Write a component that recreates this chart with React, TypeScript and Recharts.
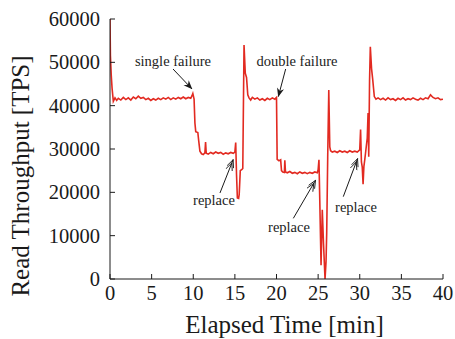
import React from 'react';
import { LineChart, Line, XAxis, YAxis, ReferenceLine, ReferenceDot } from 'recharts';

const timeMin: number[] = [
  0, 0.05, 0.15, 0.25, 0.4, 0.6, 0.8, 1.0, 1.3, 1.6, 1.9, 2.2, 2.5, 2.8, 3.1, 3.4, 3.7, 4.0, 4.3, 4.6, 4.9,
  5.2, 5.5, 5.8, 6.1, 6.4, 6.7, 7.0, 7.3, 7.6, 7.9, 8.2, 8.5, 8.8, 9.1, 9.4, 9.7, 9.85, 9.95,
  10.1, 10.2, 10.3, 10.55, 10.65, 10.8, 11.0, 11.2, 11.4, 11.48, 11.56, 11.8, 12.1, 12.4, 12.7, 13.0, 13.3,
  13.6, 13.9, 14.2, 14.5, 14.8, 15.0, 15.1, 15.2, 15.3, 15.45, 15.52, 15.65, 15.85, 15.95, 16.1, 16.25, 16.4,
  16.55, 16.7, 16.9, 17.1, 17.4, 17.7, 18.0, 18.3, 18.6, 18.9, 19.2, 19.5, 19.8, 20.0,
  20.08, 20.3, 20.5, 20.6, 20.75, 20.95, 21.0, 21.08, 21.3, 21.6, 21.9, 22.2, 22.5, 22.8, 23.1, 23.4, 23.7,
  24.0, 24.3, 24.6, 24.9, 25.0, 25.1, 25.2, 25.35, 25.5, 25.65, 25.83, 25.95, 26.03, 26.15, 26.28, 26.4, 26.5,
  26.7, 27.0, 27.3, 27.6, 27.9, 28.2, 28.5, 28.8, 29.1, 29.4, 29.7, 30.0, 30.1, 30.2, 30.3, 30.4, 30.5, 30.6,
  30.75, 30.9, 31.0, 31.08, 31.18, 31.27, 31.42, 31.55, 31.75, 31.95, 32.2, 32.5, 32.8, 33.1, 33.4, 33.7,
  34.0, 34.3, 34.6, 34.9, 35.2, 35.5, 35.8, 36.1, 36.4, 36.7, 37.0, 37.3, 37.6, 37.9, 38.2, 38.5, 38.8,
  39.1, 39.4, 39.7, 40.0,
];

const throughputTps: number[] = [
  60000, 51500, 47000, 44000, 41000, 41800, 41200, 41700, 41300, 41900, 41400, 41800, 41300, 42000, 41600, 42200, 41700, 41900, 41400, 41700, 41200,
  41600, 41300, 41700, 41400, 41800, 41500, 41900, 41400, 41800, 41500, 41900, 41600, 42000, 41600, 41900, 41700, 42300, 42800,
  41500, 36000, 34000, 33800, 32000, 29500, 28900, 28700, 29100, 31600, 29000, 28800, 29200, 28900, 29300, 29000, 29200,
  28800, 29100, 28900, 29200, 29000, 29300, 31500, 24000, 18700, 18600, 19500, 25000, 25300, 25500, 54000, 47500, 46500,
  42500, 41800, 41300, 41900, 41500, 41800, 41300, 41600, 41200, 41700, 41400, 41800, 41500, 41900,
  27600, 27300, 27500, 25000, 24700, 24600, 27400, 24700, 24500, 24800, 24400, 24600, 24300, 24700, 24400, 24600, 24300,
  24600, 24400, 24700, 24500, 25200, 27500, 18000, 3200, 16000, 8000, 0, 4000, 10600, 28000, 43600, 30500, 29600,
  29300, 29500, 29200, 29600, 29300, 29500, 29200, 29600, 29300, 29500, 29300, 29800, 34500, 27000, 25800, 21900, 26000, 27500,
  30000, 32500, 38300, 28200, 46000, 53600, 48500, 46200, 42100, 41500, 41800, 41400, 41700, 41300, 41800, 41400,
  41600, 41200, 41700, 41400, 41800, 41300, 41600, 41400, 41800, 41500, 41300, 41700, 41400, 41800, 41600, 42500, 41900,
  41600, 41800, 41400, 41500,
];

const xTicks: number[] = [0, 5, 10, 15, 20, 25, 30, 35, 40];
const yTicks: number[] = [0, 10000, 20000, 30000, 40000, 50000, 60000];

// annotations in data coordinates: text position, arrow start, arrow end
const annoText: string[] = ['single failure', 'double failure', 'replace', 'replace', 'replace'];
const annoTextT: number[] = [7.57, 22.46, 12.49, 21.5, 29.55];
const annoTextV: number[] = [50300, 50300, 18230, 12000, 16600];
const arrowFromT: number[] = [7.57, 21.1, 13.21, 22.02, 28.02];
const arrowFromV: number[] = [48460, 48460, 19850, 14000, 19000];
const arrowToT: number[] = [9.85, 20.22, 14.81, 24.71, 29.75];
const arrowToV: number[] = [43850, 42100, 27620, 22850, 27850];
const arrowDouble: boolean[] = [false, false, true, true, true];

const data = timeMin.map((t, i) => ({ t, v: throughputTps[i] }));

const FONT = '"Liberation Serif", "Times New Roman", Times, serif';
const INK = '#1a1a1a';
const RED = '#e22a21';

const tickStyle = { fontFamily: FONT, fontSize: 20.5, fill: INK } as React.CSSProperties;
const annoStyle = { fontFamily: FONT, fontSize: 14.5, fill: '#222' } as React.CSSProperties;
const labelStyle = { fontFamily: FONT, fontSize: 25, fill: INK } as React.CSSProperties;

const XTickBottom = (p: any) => (
  <g>
    <line x1={p.x} y1={p.y} x2={p.x} y2={p.y - 5} stroke={INK} strokeWidth={1} />
    <text x={p.x} y={p.y + 21} textAnchor="middle" style={tickStyle}>
      {p.payload.value}
    </text>
  </g>
);
const XTickTop = (p: any) => (
  <line x1={p.x} y1={p.y} x2={p.x} y2={p.y + 5} stroke={INK} strokeWidth={1} />
);
const YTickLeft = (p: any) => (
  <g>
    <line x1={p.x} y1={p.y} x2={p.x + 5} y2={p.y} stroke={INK} strokeWidth={1} />
    <text x={p.x - 10} y={p.y + 7} textAnchor="end" style={tickStyle}>
      {p.payload.value}
    </text>
  </g>
);
const YTickRight = (p: any) => (
  <line x1={p.x} y1={p.y} x2={p.x - 5} y2={p.y} stroke={INK} strokeWidth={1} />
);

const XLabel = (p: any) => {
  const vb = p.viewBox || { x: 0, y: 0, width: 0, height: 0 };
  return (
    <text x={vb.x + vb.width / 2 + 8} y={vb.y + 54} textAnchor="middle" style={labelStyle}>
      Elapsed Time [min]
    </text>
  );
};
const YLabel = (p: any) => {
  const vb = p.viewBox || { x: 0, y: 0, width: 0, height: 0 };
  const cx = vb.x + 28.5;
  const cy = vb.y + vb.height / 2 + 27;
  return (
    <text transform={`translate(${cx}, ${cy}) rotate(-90)`} textAnchor="middle" style={labelStyle}>
      Read Throughput [TPS]
    </text>
  );
};

export default function App() {
  return (
    <div style={{ position: 'absolute', left: 0, top: 0, width: 455, height: 339, background: '#fff' }}>
      <svg width={0} height={0} style={{ position: 'absolute' }}>
        <defs>
          <marker id="arrSingle" viewBox="0 0 10 10" refX="9.5" refY="5" markerWidth="9" markerHeight="9" orient="auto" markerUnits="userSpaceOnUse">
            <path d="M0,1 L10,5 L0,9 L3,5 Z" fill={INK} />
          </marker>
          <marker id="arrDouble" viewBox="0 0 14 10" refX="13.5" refY="5" markerWidth="12" markerHeight="9" orient="auto" markerUnits="userSpaceOnUse">
            <path d="M0,1 L9,5 L0,9 M4,1 L13,5 L4,9" fill="none" stroke={INK} strokeWidth={1} />
          </marker>
        </defs>
      </svg>
      <LineChart width={455} height={339} data={data} margin={{ top: 19, right: 12, bottom: 0, left: 0 }}>
        <XAxis
          dataKey="t"
          type="number"
          domain={[0, 40]}
          ticks={xTicks}
          interval={0}
          height={60}
          tickSize={0}
          tickMargin={0}
          axisLine={{ stroke: INK, strokeWidth: 1 }}
          tick={<XTickBottom />}
          label={<XLabel />}
          allowDataOverflow
        />
        <XAxis
          xAxisId="top"
          dataKey="t"
          type="number"
          orientation="top"
          domain={[0, 40]}
          ticks={xTicks}
          interval={0}
          height={0}
          tickSize={0}
          tickMargin={0}
          axisLine={{ stroke: INK, strokeWidth: 1 }}
          tick={<XTickTop />}
          allowDataOverflow
        />
        <YAxis
          type="number"
          domain={[0, 60000]}
          ticks={yTicks}
          interval={0}
          width={110}
          tickSize={0}
          tickMargin={0}
          axisLine={{ stroke: INK, strokeWidth: 1 }}
          tick={<YTickLeft />}
          label={<YLabel />}
          allowDataOverflow
        />
        <YAxis
          yAxisId="right"
          type="number"
          orientation="right"
          domain={[0, 60000]}
          ticks={yTicks}
          interval={0}
          width={0}
          tickSize={0}
          tickMargin={0}
          axisLine={{ stroke: INK, strokeWidth: 1 }}
          tick={<YTickRight />}
          allowDataOverflow
        />
        <Line
          type="linear"
          dataKey="v"
          stroke={RED}
          strokeWidth={1.6}
          dot={false}
          isAnimationActive={false}
        />
        {annoText.map((txt, i) => (
          <ReferenceLine
            key={`al${i}`}
            segment={[
              { x: arrowFromT[i], y: arrowFromV[i] },
              { x: arrowToT[i], y: arrowToV[i] },
            ]}
            stroke={INK}
            ifOverflow="visible"
            shape={(p: any) => (
              <line
                x1={p.x1}
                y1={p.y1}
                x2={p.x2}
                y2={p.y2}
                stroke={INK}
                strokeWidth={1}
                markerEnd={arrowDouble[i] ? 'url(#arrDouble)' : 'url(#arrSingle)'}
              />
            )}
          />
        ))}
        {annoText.map((txt, i) => (
          <ReferenceDot
            key={`at${i}`}
            x={annoTextT[i]}
            y={annoTextV[i]}
            r={0}
            ifOverflow="visible"
            shape={(p: any) => (
              <text x={p.cx} y={p.cy + 5} textAnchor="middle" style={annoStyle}>
                {txt}
              </text>
            )}
          />
        ))}
      </LineChart>
    </div>
  );
}
